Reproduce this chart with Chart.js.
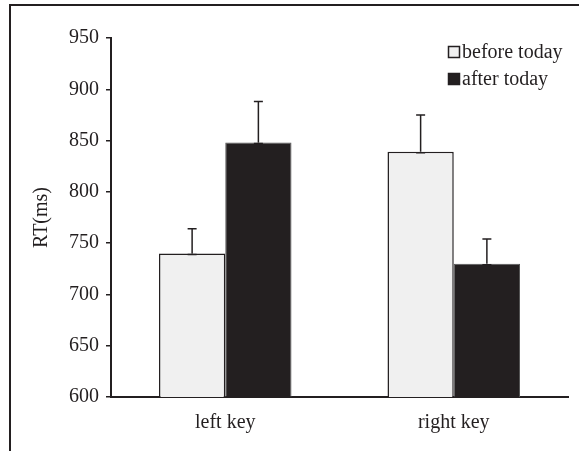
<!DOCTYPE html>
<html lang="en">
<head>
<meta charset="UTF-8">
<title>RT chart</title>
<script src="https://cdn.jsdelivr.net/npm/chart.js"></script>
<style>
    * { margin: 0; padding: 0; box-sizing: border-box; }
    body { background: #fff; width: 579px; height: 451px; overflow: hidden; }
    .wrap { position: relative; width: 579px; height: 451px; }
    .frame {
        position: absolute; left: 9px; top: 4px; width: 570px; height: 447px;
        border-top: 2px solid #231f20; border-left: 2px solid #231f20;
        pointer-events: none;
    }
</style>
</head>
<body>
<div class="wrap">
    <canvas id="myChart" width="579" height="451"></canvas>
    <div class="frame"></div>
</div>

<script>
    // data
    const categories = ['left key', 'right key'];
    const seriesNames = ['before today', 'after today'];
    const beforeValues = [740, 839];
    const afterValues = [848, 730];
    const beforeErrors = [24, 36];
    const afterErrors = [40, 24];
    const yTicks = [600, 650, 700, 750, 800, 850, 900, 950];

    const ink = '#231f20';
    const serif = "'Liberation Serif', 'DejaVu Serif', serif";

    // error bars: stem up from bar top with a cap on both ends
    const errorBars = {
        id: 'errorBars',
        afterDatasetsDraw(chart) {
            const ctx = chart.ctx;
            const y = chart.scales.y;
            ctx.save();
            ctx.strokeStyle = ink;
            ctx.lineWidth = 1.5;
            chart.data.datasets.forEach((ds, i) => {
                const meta = chart.getDatasetMeta(i);
                meta.data.forEach((bar, j) => {
                    const top = y.getPixelForValue(ds.data[j] + ds.errors[j]);
                    const base = bar.y;
                    ctx.beginPath();
                    ctx.moveTo(bar.x, base);
                    ctx.lineTo(bar.x, top);
                    ctx.moveTo(bar.x - 4.5, top);
                    ctx.lineTo(bar.x + 4.5, top);
                    ctx.moveTo(bar.x - 4.5, base + 1);
                    ctx.lineTo(bar.x + 4.5, base + 1);
                    ctx.stroke();
                });
            });
            ctx.restore();
        }
    };

    // legend in the top right corner
    const cornerLegend = {
        id: 'cornerLegend',
        afterDraw(chart) {
            const ctx = chart.ctx;
            ctx.save();
            ctx.font = '20px ' + serif;
            ctx.textBaseline = 'middle';
            ctx.textAlign = 'left';
            chart.data.datasets.forEach((ds, i) => {
                const cy = 52 + i * 27;
                ctx.fillStyle = ds.backgroundColor;
                ctx.fillRect(448.5, cy - 5.5, 11, 11);
                ctx.strokeStyle = ink;
                ctx.lineWidth = 1.5;
                ctx.strokeRect(448.5, cy - 5.5, 11, 11);
                ctx.fillStyle = ink;
                ctx.fillText(ds.label, 462, cy + 1);
            });
            ctx.restore();
        }
    };

    const config = {
        type: 'bar',
        data: {
            labels: categories,
            datasets: [
                {
                    label: seriesNames[0],
                    data: beforeValues,
                    errors: beforeErrors,
                    backgroundColor: '#f0f0f0',
                    borderColor: ink,
                    borderWidth: 1.5,
                    borderSkipped: 'bottom'
                },
                {
                    label: seriesNames[1],
                    data: afterValues,
                    errors: afterErrors,
                    backgroundColor: ink,
                    borderColor: '#555',
                    borderWidth: 1,
                    borderSkipped: 'bottom'
                }
            ]
        },
        plugins: [errorBars, cornerLegend],
        options: {
            responsive: false,
            animation: false,
            layout: { padding: { top: 38, right: 11, left: 0, bottom: 0 } },
            plugins: {
                legend: { display: false },
                tooltip: { enabled: false }
            },
            datasets: {
                bar: { categoryPercentage: 0.58, barPercentage: 1 }
            },
            scales: {
                x: {
                    grid: { display: false, drawTicks: false },
                    border: { display: true, color: ink, width: 2 },
                    ticks: { color: ink, font: { family: serif, size: 20 }, padding: 14 },
                    afterFit(s) { s.height = 54; }
                },
                y: {
                    min: 600,
                    max: 950,
                    afterBuildTicks(s) { s.ticks = yTicks.map(v => ({ value: v })); },
                    grid: { display: true, drawOnChartArea: false, drawTicks: true, tickLength: 5, color: ink, lineWidth: 1.5 },
                    border: { display: true, color: ink, width: 2 },
                    ticks: { color: ink, font: { family: serif, size: 20 }, padding: 7 },
                    title: {
                        display: true,
                        text: 'RT(ms)',
                        color: ink,
                        font: { family: serif, size: 20 },
                        padding: { top: 30, bottom: 0 }
                    },
                    afterFit(s) { s.width = 111; }
                }
            }
        }
    };

    new Chart(document.getElementById('myChart'), config);
</script>
</body>
</html>
